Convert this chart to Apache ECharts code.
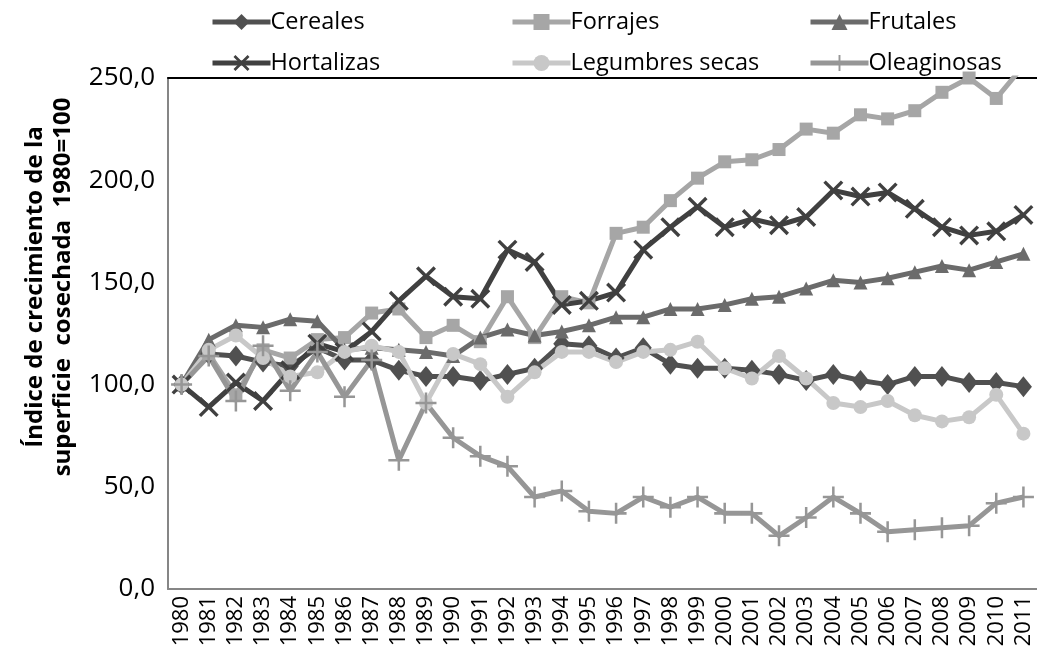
<!DOCTYPE html>
<html>
<head>
<meta charset="utf-8">
<script src="https://cdn.jsdelivr.net/npm/echarts@6/dist/echarts.min.js"></script>
<style>
html,body{margin:0;padding:0;background:#fff;}
#c{width:1037px;height:654px;}
</style>
</head>
<body>
<div id="c"></div>
<script>
const years = ['1980','1981','1982','1983','1984','1985','1986','1987','1988','1989','1990','1991','1992','1993','1994','1995','1996','1997','1998','1999','2000','2001','2002','2003','2004','2005','2006','2007','2008','2009','2010','2011'];
const cereales = [100,115,114,111,109,118,112,112,107,104,104,102,105,108,120,119,113,118,110,108,108,107,105,102,105,102,100,104,104,101,101,99];
const forrajes = [100,115,95,117,113,122,123,135,137,123,129,121,143,123,143,140,174,177,190,201,209,210,215,225,223,232,230,234,243,250,240,256];
const frutales = [100,122,129,128,132,131,117,118,117,116,114,123,127,124,126,129,133,133,137,137,139,142,143,147,151,150,152,155,158,156,160,164];
const hortalizas = [100,89,101,92,107,120,116,126,141,153,143,142,166,160,139,141,145,166,177,187,177,181,178,182,195,192,194,186,177,173,175,183];
const legumbres = [100,117,124,113,104,106,116,119,116,91,115,110,94,106,116,116,111,116,117,121,108,103,114,103,91,89,92,85,82,84,95,76];
const oleaginosas = [100,114,92,119,97,116,94,112,63,91,74,65,60,45,48,38,37,45,40,45,37,37,26,35,45,37,28,29,30,31,42,45];
const yTicks = {min: 0, max: 250, interval: 50};
const seriesNames = ['Cereales','Forrajes','Frutales','Hortalizas','Legumbres secas','Oleaginosas'];
const yTitle = 'Índice de crecimiento de la\nsuperficie  cosechada  1980=100';

const FONT = "'Open Sans', 'Noto Sans', sans-serif";
const xSym = 'path://M0,1.2L1.2,0L10,8.8L8.8,10Z M8.8,0L10,1.2L1.2,10L0,8.8Z';
const plusSym = 'path://M4.4,0H5.6V10H4.4Z M0,4.4H10V5.6H0Z';

function mk(name, data, color, symbol, size) {
  return {
    name: name, type: 'line', data: data,
    symbol: symbol, symbolSize: size, showAllSymbol: true,
    lineStyle: {width: 5, color: color},
    itemStyle: {color: color, borderWidth: 0},
    emphasis: {disabled: true},
    animation: false,
    z: 2
  };
}

const chart = echarts.init(document.getElementById('c'), null, {renderer: 'canvas'});
const legendCommon = {
  orient: 'vertical', itemWidth: 58, itemHeight: 20, itemGap: 17,
  lineStyle: {width: 5},
  textStyle: {fontFamily: FONT, fontSize: 23.5, color: '#000', padding: [0,0,0,-5]},
  top: 10, padding: 0
};
chart.setOption({
  backgroundColor: '#fff',
  animation: false,
  legend: [
    Object.assign({}, legendCommon, {left: 210, data: ['Cereales','Hortalizas']}),
    Object.assign({}, legendCommon, {left: 510, data: ['Forrajes','Legumbres secas']}),
    Object.assign({}, legendCommon, {left: 808, data: ['Frutales','Oleaginosas']})
  ],
  grid: {left: 168, top: 78, width: 873, height: 511, containLabel: false},
  xAxis: [{
    type: 'category', data: years, boundaryGap: true,
    axisLine: {show: true, lineStyle: {color: '#868686', width: 2}},
    axisTick: {show: false},
    axisLabel: {rotate: 90, fontFamily: FONT, fontSize: 22, color: '#000', margin: 7, interval: 0}
  }, {
    type: 'category', data: years, position: 'top', boundaryGap: true,
    axisLine: {show: true, lineStyle: {color: '#000', width: 2}},
    axisTick: {show: false}, axisLabel: {show: false}
  }],
  yAxis: {
    type: 'value', min: yTicks.min, max: yTicks.max, interval: yTicks.interval,
    axisLine: {show: true, lineStyle: {color: '#868686', width: 2}},
    axisTick: {show: false},
    splitLine: {show: false},
    axisLabel: {fontFamily: FONT, fontSize: 26, color: '#000', margin: 13,
      formatter: v => v.toFixed(1).replace('.', ',')}
  },
  graphic: [{
    type: 'text', x: 49, y: 287, rotation: Math.PI / 2,
    style: {text: yTitle, fontFamily: FONT, fontSize: 24, fontWeight: 'bold', fill: '#000',
      lineHeight: 28, align: 'center', verticalAlign: 'middle'}
  }],
  series: [
    mk(seriesNames[0], cereales, '#505050', 'diamond', [17, 21]),
    mk(seriesNames[1], forrajes, '#a6a6a6', 'rect', 13),
    mk(seriesNames[2], frutales, '#6b6b6b', 'triangle', 14),
    mk(seriesNames[3], hortalizas, '#404040', xSym, 20),
    mk(seriesNames[4], legumbres, '#c8c8c8', 'circle', 14),
    mk(seriesNames[5], oleaginosas, '#969696', plusSym, 21)
  ]
});
</script>
</body>
</html>
